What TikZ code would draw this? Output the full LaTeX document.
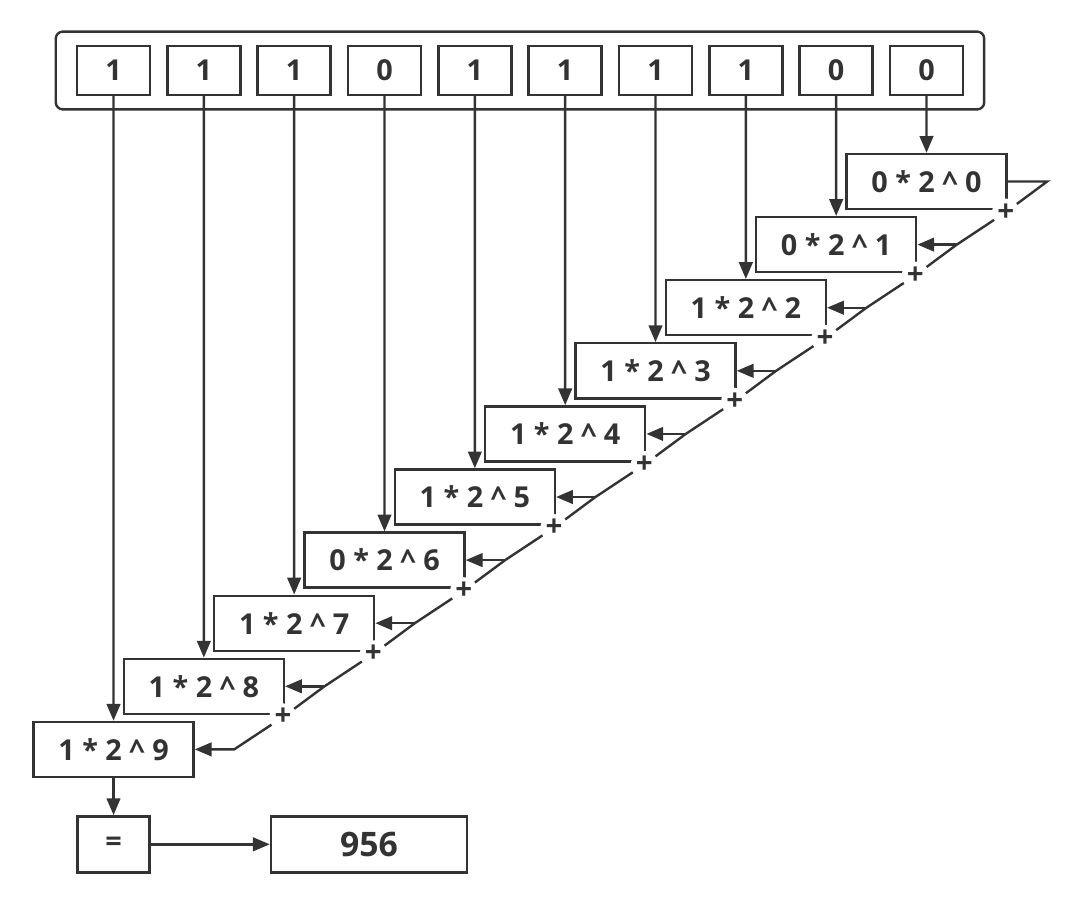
\documentclass[tikz,border=0pt]{standalone}
\usepackage{fontspec}
\setmainfont{Open Sans}
\usepackage{xcolor}
\usetikzlibrary{arrows.meta, positioning, calc, fit}
\definecolor{inkgray}{RGB}{51, 51, 51}

\begin{document}
\begin{tikzpicture}[
    x=0.025cm, y=-0.025cm,
    bitbox/.style={rectangle, draw=inkgray, line width=1.7pt, minimum width=1.825cm, minimum height=1.225cm, inner sep=0pt, align=center, text=inkgray, font=\fontsize{20.5}{24}\selectfont\bfseries},
    termbox/.style={bitbox, minimum width=4cm, minimum height=1.375cm},
    sumnode/.style={circle, fill=white, minimum size=0.68cm, inner sep=0pt, text=inkgray, font=\fontsize{21}{24}\selectfont\bfseries},
    wire/.style={line width=1.7pt, draw=inkgray, line join=miter},
    arrowstyle/.style={-{Triangle[length=0.42cm, width=0.34cm]}, line width=1.7pt, draw=inkgray}
]
\useasboundingbox (0,0) rectangle (1080,904);

% binary digits
\foreach \bitval [count=\j from 0] in {1,1,1,0,1,1,1,1,0,0}
  \node[bitbox] (t\j) at (113.5+90.33*\j, 70.5) {\bitval};
\node[draw=inkgray, line width=1.7pt, rounded corners=5pt, fit=(t0)(t9), inner xsep=0.5cm, inner ysep=0.33cm] (word) {};

% weighted terms
\foreach \bitval [count=\k from 0] in {0,0,1,1,1,1,0,1,1,1}
  \node[termbox] (b\k) at (926.5-90.33*\k, 181.5+63.1*\k) {\bitval{} * 2 \textasciicircum{} \k};

\foreach \k in {0,...,9} {
  \pgfmathtruncatemacro\j{9-\k}
  \draw[arrowstyle] (t\j.south) -- (b\k.north);
}

% sum chain
\foreach \k in {0,...,8}
  \node[sumnode] (p\k) at ([xshift=-0.05cm, yshift=-0.05cm]b\k.south east) {+};
\foreach \k in {0,...,9}
  \coordinate (jn\k) at ([xshift=0.985cm]b\k.east);

\draw[arrowstyle] (b0.east) -- (jn0) -- (p0) -- (jn1) -- (p1) -- (jn2) -- (p2) -- (jn3) -- (p3) -- (jn4) -- (p4) -- (jn5) -- (p5) -- (jn6) -- (p6) -- (jn7) -- (p7) -- (jn8) -- (p8) -- (jn9) -- (b9.east);
\foreach \k in {1,...,8}
  \draw[arrowstyle] (jn\k) -- (b\k.east);

% result
\node[bitbox, minimum width=1.8cm, minimum height=1.4cm, below=0.925cm of b9] (eq) {=};
\node[bitbox, minimum width=4.9cm, minimum height=1.4cm, right=2.975cm of eq, font=\fontsize{24}{28}\selectfont\bfseries] (res) {956};
\draw[arrowstyle] (b9) -- (eq);
\draw[arrowstyle] (eq) -- (res);

\end{tikzpicture}
\end{document}
